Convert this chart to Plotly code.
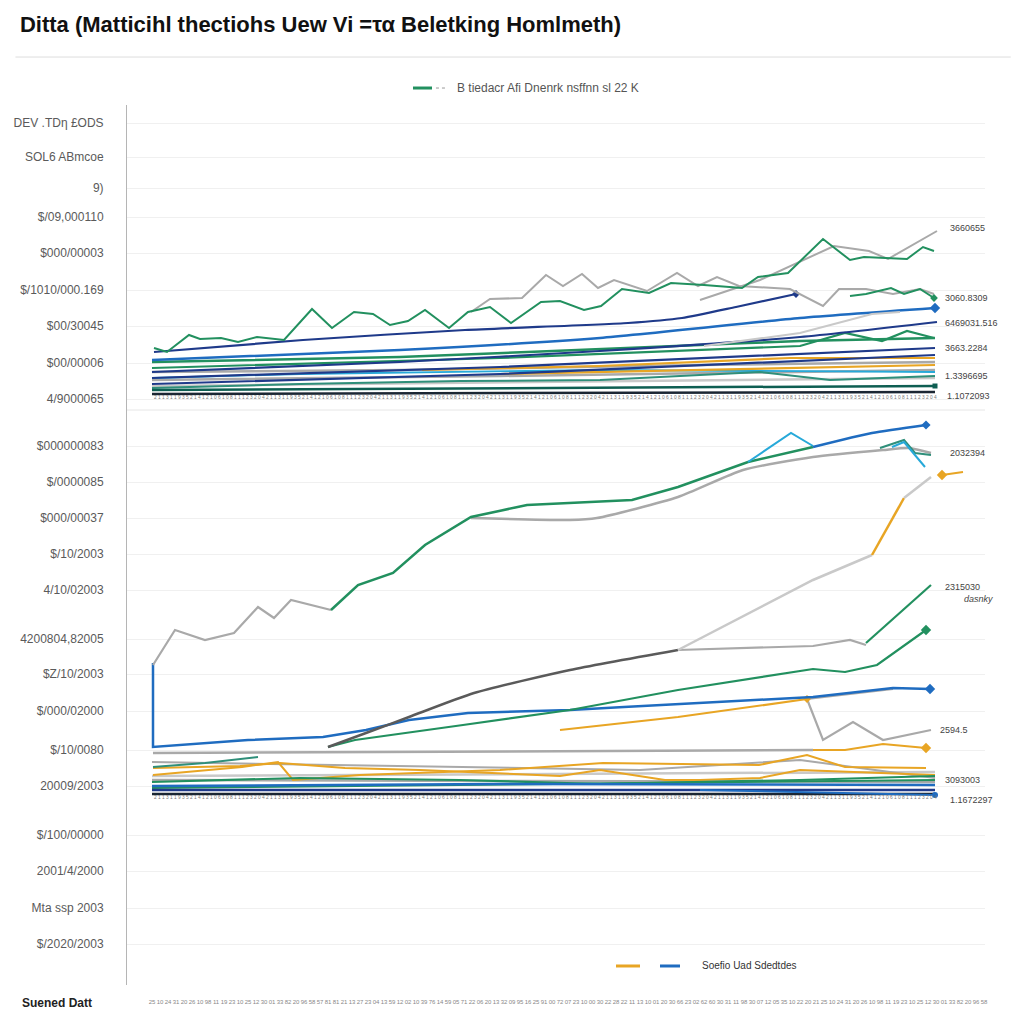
import plotly.graph_objects as go

# ---------------- data ----------------
# y-axis tick positions (values) and their (garbled) labels
Y_TICK_VALS = [862, 828, 797, 768, 732, 695, 659, 622, 586, 539, 503, 467, 431, 395,
               346, 311, 274, 235, 199, 150, 114, 77, 41]
Y_TICK_TEXT = ["DEV .TDη £ODS", "SOL6 ABmcoe", "9)", "$/09,000110", "$000/00003",
               "$/1010/000.169", "$00/30045", "$00/00006", "4/9000065", "$000000083",
               "$/0000085", "$000/00037", "$/10/2003", "4/10/02003", "4200804,82005",
               "$Z/10/2003", "$/000/02000", "$/10/0080", "20009/2003", "$/100/00000",
               "2001/4/2000", "Mta ssp 2003", "$/2020/2003"]
X_TICK_DIGITS = ("2510243120261098111923102512300133822096585781812113272304"
                 "1359120210397614590571220620133209951625910072072310003022"
                 "2822111310012030662302626030311198300712053510222021")
MID_ROW_TEXT = "2 1 1 3 1 1 9 3 5 2 1 4 1 2 1 0 6 1 0 8 1 1 1 2 3 2 0 4 " * 7

# --- upper group ---
TOP_GREEN_ZIG_X = [2, 15, 37, 48, 69, 86, 105, 132, 160, 180, 202, 221, 238, 256, 273, 297,
                   316, 338, 359, 389, 408, 432, 449, 470, 497, 519, 552, 590, 606, 636, 671,
                   698, 712, 739, 755, 771, 782]
TOP_GREEN_ZIG_Y = [637, 633, 650, 646, 647, 643, 648, 645, 676, 657, 673, 671, 660, 664, 675, 657,
                   673, 678, 662, 683, 684, 675, 679, 696, 692, 702, 700, 697, 708, 712, 746,
                   725, 728, 727, 726, 738, 734]
TOP_GRAY_ZIG_X = [319, 338, 370, 394, 411, 430, 446, 462, 495, 525, 546, 565, 587, 638, 671,
                  687, 714, 741, 768, 782]
TOP_GRAY_ZIG_Y = [673, 686, 687, 710, 699, 711, 697, 705, 694, 712, 699, 708, 699, 696, 679,
                  696, 696, 691, 696, 691]
TOP_GRAY_DIAG_X = [548, 608, 682, 717, 736, 785]
TOP_GRAY_DIAG_Y = [685, 705, 739, 734, 726, 754]
TOP_GRAY_LOW_X = [552, 648, 720, 748]
TOP_GRAY_LOW_Y = [639, 652, 671, 673]
TOP_GREEN_MID_X = [698, 714, 739, 752, 768, 782]
TOP_GREEN_MID_Y = [689, 691, 697, 691, 696, 687]
TOP_NAVY1_X = [2, 151, 313, 476, 530, 584, 644]
TOP_NAVY1_Y = [633, 645, 655, 662, 667, 678, 691]
TOP_BLUE2_X = [0, 248, 448, 648, 783]
TOP_BLUE2_Y = [625, 635, 647, 667, 677]
TOP_NAVY3_X = [0, 248, 448, 648, 785]
TOP_NAVY3_Y = [613, 623, 634, 648, 663]
TOP_GREEN3_X = [0, 248, 548, 648, 783]
TOP_GREEN3_Y = [623, 628, 640, 644, 647]
TOP_GREEN4_X = [0, 348, 648, 693, 730, 755, 782]
TOP_GREEN4_Y = [617, 627, 639, 652, 644, 654, 647]
TOP_NAVY4_X = [0, 348, 783]
TOP_NAVY4_Y = [607, 618, 637]
TOP_NAVY5_X = [0, 348, 783]
TOP_NAVY5_Y = [601, 611, 630]
TOP_ORANGE1_X = [270, 448, 638, 783]
TOP_ORANGE1_Y = [615, 619, 627, 627]
TOP_ORANGE2_X = [348, 783]
TOP_ORANGE2_Y = [611, 620]
TOP_GRAY1_X = [0, 248, 548, 783]
TOP_GRAY1_Y = [613, 615, 620, 623]
TOP_GRAY2_X = [0, 348, 783]
TOP_GRAY2_Y = [605, 609, 615]
TOP_GRAY3_X = [0, 783]
TOP_GRAY3_Y = [599, 607]
TOP_TEAL_X = [0, 148, 308, 448, 608, 678, 783]
TOP_TEAL_Y = [597, 601, 604, 605, 613, 605, 609]
TOP_DKTEAL_X = [0, 783]
TOP_DKTEAL_Y = [595, 599]
TOP_BLACK_X = [0, 783]
TOP_BLACK_Y = [591, 593]
TOP_LTBLUE_X = [0, 148, 448, 783]
TOP_LTBLUE_Y = [607, 611, 615, 613]

# --- lower group ---
BOT_GREEN1_X = [179, 206, 241, 273, 319, 375, 480, 526, 596, 661]
BOT_GREEN1_Y = [375, 400, 412, 440, 468, 480, 485, 498, 523, 538]
BOT_BLUE1_X = [661, 720, 774]
BOT_BLUE1_Y = [538, 552, 560]
BOT_LTBLUE1_X = [596, 639, 661]
BOT_LTBLUE1_Y = [523, 552, 539]
BOT_LTBLUE2_X = [740, 752, 773]
BOT_LTBLUE2_Y = [538, 543, 518]
BOT_GRAY_ZIG_X = [1, 23, 53, 82, 106, 122, 139, 160, 179]
BOT_GRAY_ZIG_Y = [320, 355, 345, 352, 378, 367, 385, 380, 375]
BOT_GRAY2_X = [319, 418, 445, 526, 591, 661, 731, 757, 779]
BOT_GRAY2_Y = [467, 465, 467, 488, 515, 528, 535, 537, 532]
BOT_TEAL_X = [728, 752, 763, 779]
BOT_TEAL_Y = [537, 545, 532, 530]
BOT_LTGRAY_RISE_X = [526, 661, 720]
BOT_LTGRAY_RISE_Y = [335, 405, 430]
BOT_ORANGE_RISE_X = [720, 752]
BOT_ORANGE_RISE_Y = [430, 487]
BOT_GRAY_TIP_X = [752, 779]
BOT_GRAY_TIP_Y = [487, 508]
BOT_ORANGE_TIP_X = [790, 811]
BOT_ORANGE_TIP_Y = [510, 513]
BOT_DKGRAY_X = [176, 214, 257, 322, 418, 526]
BOT_DKGRAY_Y = [238, 252, 268, 292, 315, 335]
BOT_GRAY3_X = [526, 661, 698, 714]
BOT_GRAY3_Y = [335, 339, 345, 340]
BOT_GREEN2_X = [714, 779]
BOT_GREEN2_Y = [342, 400]
BOT_GREEN3_X = [176, 203, 311, 418, 526, 661, 693, 725, 774]
BOT_GREEN3_Y = [238, 245, 260, 275, 295, 316, 313, 320, 355]
BOT_BLUE2_X = [1, 1, 96, 171, 214, 257, 316, 418, 472, 661, 741, 778]
BOT_BLUE2_Y = [322, 238, 245, 248, 255, 265, 272, 275, 278, 288, 297, 296]
BOT_ORANGE2_X = [408, 526, 655]
BOT_ORANGE2_Y = [255, 268, 286]
BOT_GRAY4_X = [655, 741]
BOT_GRAY4_Y = [286, 296]
BOT_GRAY_ZIG2_X = [655, 671, 701, 731, 779]
BOT_GRAY_ZIG2_Y = [286, 245, 263, 245, 255]
BOT_GRAY_FLAT_X = [1, 248, 661]
BOT_GRAY_FLAT_Y = [232, 233, 235]
BOT_ORANGE3_X = [661, 693, 731, 774]
BOT_ORANGE3_Y = [235, 235, 241, 237]
BOT_TEAL_LEFT_X = [1, 53, 106]
BOT_TEAL_LEFT_Y = [218, 222, 228]
BOT_ORANGE_LOW_A_X = [1, 90, 126, 141, 208, 348, 451, 607, 655, 693, 774]
BOT_ORANGE_LOW_A_Y = [210, 218, 223, 205, 210, 215, 222, 220, 230, 218, 217]
BOT_ORANGE_LOW_B_X = [1, 88, 128, 193, 268, 408, 448, 513, 548, 608, 648, 783]
BOT_ORANGE_LOW_B_Y = [217, 219, 222, 217, 215, 209, 215, 205, 205, 207, 215, 210]
BOT_GRAY_LOW_X = [0, 198, 348, 488, 648, 783]
BOT_GRAY_LOW_Y = [223, 220, 217, 215, 225, 207]
BOT_GREEN_LOW1_X = [0, 148, 308, 448, 648, 783]
BOT_GREEN_LOW1_Y = [203, 207, 205, 201, 205, 209]
BOT_GREEN_LOW2_X = [0, 783]
BOT_GREEN_LOW2_Y = [197, 205]
BOT_GRAY_LOW2_X = [0, 783]
BOT_GRAY_LOW2_Y = [205, 203]
BOT_LTGRAY_LOW3_X = [0, 783]
BOT_LTGRAY_LOW3_Y = [209, 213]
BOT_BLUE_LOW_X = [0, 348, 783]
BOT_BLUE_LOW_Y = [199, 201, 200]
BOT_NAVY_LOW_X = [0, 783]
BOT_NAVY_LOW_Y = [195, 195]
BOT_BLACK_LOW_X = [0, 783]
BOT_BLACK_LOW_Y = [191, 191]
BOT_BLUE_ARROW_X = [548, 783]
BOT_BLUE_ARROW_Y = [195, 190]

# end-of-line value labels
END_LABELS = [
    (796, 757, "3660655", False), (791, 687, "3060.8309", False),
    (791, 662, "6469031.516", False), (791, 637, "3663.2284", False),
    (791, 609, "1.3396695", False), (793, 589, "1.1072093", False),
    (796, 532, "2032394", False), (791, 398, "2315030", False),
    (810, 386, "dasnky", True), (786, 255, "2594.5", False),
    (791, 205, "3093003", False), (796, 185, "1.1672297", False),
]

# ---------------- style ----------------
GREEN = "#22905f"
GRAY = "#a9a9a9"
LTGRAY = "#c9c9c9"
DKGRAY = "#5a5a5a"
NAVY = "#1f3a8a"
BLUE = "#1f6cc0"
LTBLUE = "#27a9d9"
ORANGE = "#e8a524"
DKTEAL = "#0e5e52"
TEAL = "#2f8f7a"
BLACK = "#1b2633"

fig = go.Figure()


def add(x, y, color, width=2.0, smooth=False, end=None, start=None, msize=8):
    fig.add_trace(go.Scatter(
        x=x, y=y, mode="lines",
        line=dict(color=color, width=width, shape="spline" if smooth else "linear",
                  smoothing=0.6),
        hoverinfo="skip", showlegend=False))
    if end:
        fig.add_trace(go.Scatter(x=[x[-1]], y=[y[-1]], mode="markers",
                                 marker=dict(symbol=end, size=msize, color=color),
                                 hoverinfo="skip", showlegend=False))
    if start:
        fig.add_trace(go.Scatter(x=[x[0]], y=[y[0]], mode="markers",
                                 marker=dict(symbol=start, size=msize, color=color),
                                 hoverinfo="skip", showlegend=False))


# upper group
add(TOP_GRAY3_X, TOP_GRAY3_Y, LTGRAY, 2.5)
add(TOP_GRAY2_X, TOP_GRAY2_Y, GRAY, 2.5)
add(TOP_GRAY1_X, TOP_GRAY1_Y, GRAY, 2.5)
add(TOP_LTBLUE_X, TOP_LTBLUE_Y, LTBLUE, 1.8)
add(TOP_ORANGE2_X, TOP_ORANGE2_Y, ORANGE, 2.2)
add(TOP_ORANGE1_X, TOP_ORANGE1_Y, ORANGE, 2.2)
add(TOP_TEAL_X, TOP_TEAL_Y, TEAL, 2)
add(TOP_DKTEAL_X, TOP_DKTEAL_Y, DKTEAL, 2.5, end="square", msize=5)
add(TOP_BLACK_X, TOP_BLACK_Y, BLACK, 2.5)
add(TOP_NAVY5_X, TOP_NAVY5_Y, NAVY, 2.2, smooth=True)
add(TOP_NAVY4_X, TOP_NAVY4_Y, NAVY, 2.2, smooth=True)
add(TOP_GREEN4_X, TOP_GREEN4_Y, GREEN, 2.2)
add(TOP_GREEN3_X, TOP_GREEN3_Y, GREEN, 2.5, smooth=True)
add(TOP_NAVY3_X, TOP_NAVY3_Y, NAVY, 2.2, smooth=True)
add(TOP_BLUE2_X, TOP_BLUE2_Y, BLUE, 2.5, smooth=True, end="diamond")
add(TOP_NAVY1_X, TOP_NAVY1_Y, NAVY, 2.2, smooth=True, end="diamond", msize=6)
add(TOP_GRAY_LOW_X, TOP_GRAY_LOW_Y, LTGRAY, 2)
add(TOP_GRAY_DIAG_X, TOP_GRAY_DIAG_Y, GRAY, 2)
add(TOP_GRAY_ZIG_X, TOP_GRAY_ZIG_Y, GRAY, 2)
add(TOP_GREEN_MID_X, TOP_GREEN_MID_Y, GREEN, 2, end="diamond", msize=6)
add(TOP_GREEN_ZIG_X, TOP_GREEN_ZIG_Y, GREEN, 2)

# lower group
add(BOT_LTGRAY_LOW3_X, BOT_LTGRAY_LOW3_Y, LTGRAY, 2.5)
add(BOT_GRAY_LOW2_X, BOT_GRAY_LOW2_Y, GRAY, 2.5)
add(BOT_GRAY_LOW_X, BOT_GRAY_LOW_Y, GRAY, 2)
add(BOT_ORANGE_LOW_B_X, BOT_ORANGE_LOW_B_Y, ORANGE, 2)
add(BOT_ORANGE_LOW_A_X, BOT_ORANGE_LOW_A_Y, ORANGE, 2)
add(BOT_TEAL_LEFT_X, BOT_TEAL_LEFT_Y, TEAL, 2)
add(BOT_GREEN_LOW1_X, BOT_GREEN_LOW1_Y, GREEN, 2.2)
add(BOT_GREEN_LOW2_X, BOT_GREEN_LOW2_Y, GREEN, 2.2)
add(BOT_BLUE_LOW_X, BOT_BLUE_LOW_Y, BLUE, 2.5)
add(BOT_NAVY_LOW_X, BOT_NAVY_LOW_Y, NAVY, 2.5)
add(BOT_BLACK_LOW_X, BOT_BLACK_LOW_Y, BLACK, 2.5)
add(BOT_BLUE_ARROW_X, BOT_BLUE_ARROW_Y, BLUE, 2, end="circle", msize=6)
add(BOT_GRAY_FLAT_X, BOT_GRAY_FLAT_Y, GRAY, 2.5)
add(BOT_ORANGE3_X, BOT_ORANGE3_Y, ORANGE, 2.2, end="diamond")
add(BOT_GRAY_ZIG2_X, BOT_GRAY_ZIG2_Y, GRAY, 2.2)
add(BOT_GRAY4_X, BOT_GRAY4_Y, GRAY, 2.2)
add(BOT_ORANGE2_X, BOT_ORANGE2_Y, ORANGE, 2.2, end="diamond", msize=6)
add(BOT_BLUE2_X, BOT_BLUE2_Y, BLUE, 2.5, end="diamond")
add(BOT_GREEN3_X, BOT_GREEN3_Y, GREEN, 2.2, end="diamond")
add(BOT_DKGRAY_X, BOT_DKGRAY_Y, DKGRAY, 2.5, smooth=True)
add(BOT_GRAY3_X, BOT_GRAY3_Y, GRAY, 2.2)
add(BOT_GREEN2_X, BOT_GREEN2_Y, GREEN, 2.2)
add(BOT_LTGRAY_RISE_X, BOT_LTGRAY_RISE_Y, LTGRAY, 2.5)
add(BOT_ORANGE_RISE_X, BOT_ORANGE_RISE_Y, ORANGE, 2.5)
add(BOT_GRAY_TIP_X, BOT_GRAY_TIP_Y, LTGRAY, 2.5)
add(BOT_ORANGE_TIP_X, BOT_ORANGE_TIP_Y, ORANGE, 2.2, start="diamond")
add(BOT_GRAY_ZIG_X, BOT_GRAY_ZIG_Y, GRAY, 2.2)
add(BOT_GRAY2_X, BOT_GRAY2_Y, GRAY, 2.5, smooth=True)
add(BOT_TEAL_X, BOT_TEAL_Y, TEAL, 2)
add(BOT_GREEN1_X, BOT_GREEN1_Y, GREEN, 2.5)
add(BOT_LTBLUE1_X, BOT_LTBLUE1_Y, LTBLUE, 2)
add(BOT_LTBLUE2_X, BOT_LTBLUE2_Y, LTBLUE, 2)
add(BOT_BLUE1_X, BOT_BLUE1_Y, BLUE, 2.5, smooth=True, end="diamond", msize=7)

# end labels
for lx, ly, txt, ital in END_LABELS:
    fig.add_annotation(x=lx, y=ly, text=f"<i>{txt}</i>" if ital else txt, showarrow=False,
                       xanchor="left", yanchor="middle",
                       font=dict(family="Liberation Sans", size=9, color="#444"))

# tiny tick rows under each group
for ry in (588, 188):
    fig.add_annotation(x=0, y=ry, text=MID_ROW_TEXT, showarrow=False, xanchor="left",
                       yanchor="middle", font=dict(family="Liberation Sans", size=4.8, color="#777"))

# x tick labels
x_tick_vals = list(range(0, 833, 8))
x_tick_text = [X_TICK_DIGITS[(2 * i) % len(X_TICK_DIGITS):(2 * i) % len(X_TICK_DIGITS) + 2]
               for i in range(len(x_tick_vals))]

# separators / legend-like keys
shapes = [
    dict(type="line", xref="paper", yref="paper", x0=-0.13, x1=1.03, y0=1.0545, y1=1.0545,
         line=dict(color="#dddddd", width=1)),
    dict(type="line", xref="paper", yref="y", x0=0, x1=1, y0=575, y1=575,
         line=dict(color="#e6e6e6", width=1)),
    dict(type="line", xref="paper", yref="paper", x0=0.3333, x1=0.3555, y0=1.0193, y1=1.0193,
         line=dict(color=GREEN, width=3)),
    dict(type="line", xref="paper", yref="paper", x0=0.3601, x1=0.3741, y0=1.0193, y1=1.0193,
         line=dict(color="#999", width=1, dash="dot")),
    dict(type="line", xref="paper", yref="paper", x0=0.5699, x1=0.5979, y0=0.0216, y1=0.0216,
         line=dict(color=ORANGE, width=3)),
    dict(type="line", xref="paper", yref="paper", x0=0.6212, x1=0.6445, y0=0.0216, y1=0.0216,
         line=dict(color=BLUE, width=3)),
]

fig.add_annotation(xref="paper", yref="paper", x=0.3823, y=1.0193,
                   text="B tiedacr Afi Dnenrk nsffnn sl 22 K", showarrow=False,
                   xanchor="left", yanchor="middle",
                   font=dict(family="Liberation Sans", size=12, color="#555"))
fig.add_annotation(xref="paper", yref="paper", x=0.6678, y=0.0216,
                   text="Soefio Uad Sdedtdes", showarrow=False,
                   xanchor="left", yanchor="middle",
                   font=dict(family="Liberation Sans", size=10, color="#333"))
fig.add_annotation(xref="paper", yref="paper", x=-0.1247, y=-0.0205,
                   text="<b>Suened Datt</b>", showarrow=False,
                   xanchor="left", yanchor="middle",
                   font=dict(family="Liberation Sans", size=12, color="#222"))

fig.update_layout(
    width=1024, height=1024,
    margin=dict(l=127, r=39, t=105, b=39),
    paper_bgcolor="white", plot_bgcolor="white",
    title=dict(text="<b>Ditta (Matticihl thectiohs Uew Vi =τα Beletking Homlmeth)</b>",
               x=0.0195, xanchor="left", xref="container",
               y=0.976, yanchor="middle", yref="container",
               font=dict(family="Liberation Sans", size=22, color="#111")),
    shapes=shapes,
    xaxis=dict(range=[-25, 833], showgrid=False, zeroline=False, showline=False,
               automargin=False,
               tickmode="array", tickvals=x_tick_vals, ticktext=x_tick_text,
               tickangle=0, ticks="", ticklabelstandoff=12,
               tickfont=dict(family="Liberation Sans", size=6, color="#888")),
    yaxis=dict(range=[0, 880], showgrid=True, gridcolor="#f0f0f0", gridwidth=1,
               automargin=False,
               zeroline=False, showline=True, linecolor="#b5b5b5", linewidth=1,
               tickmode="array", tickvals=Y_TICK_VALS, ticktext=Y_TICK_TEXT,
               ticks="", ticklabelstandoff=20,
               tickfont=dict(family="Liberation Sans", size=12, color="#5a5a5a")),
)

fig.write_html("out.html",
               config={"displayModeBar": False},
               post_script="document.body.style.margin='0px';"
                           "document.body.style.overflow='hidden';")
